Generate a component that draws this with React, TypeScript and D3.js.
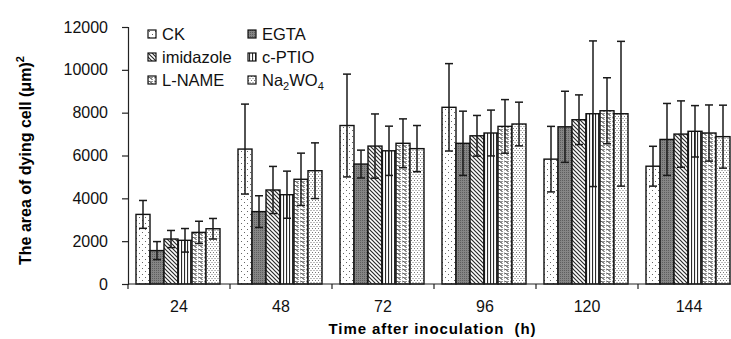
import { useEffect, useRef } from "react";
import * as d3 from "d3";

// time points (h)
const categories = ["24", "48", "72", "96", "120", "144"];
const seriesNames = ["CK", "EGTA", "imidazole", "c-PTIO", "L-NAME", "Na2WO4"];

// mean area of dying cell (μm²)
const ckValues = [3250, 6300, 7400, 8250, 5830, 5500];
const egtaValues = [1560, 3380, 5600, 6570, 7340, 6750];
const imidazoleValues = [2100, 4390, 6440, 6920, 7670, 7000];
const cptioValues = [2040, 4170, 6220, 7050, 7950, 7130];
const lnameValues = [2410, 4890, 6570, 7360, 8090, 7050];
const na2wo4Values = [2580, 5290, 6320, 7470, 7950, 6880];

// error bars (±)
const ckErrors = [650, 2100, 2400, 2040, 1530, 930];
const egtaErrors = [420, 740, 650, 1500, 1660, 1680];
const imidazoleErrors = [400, 1100, 1500, 950, 1160, 1550];
const cptioErrors = [550, 1100, 1150, 1070, 3400, 1200];
const lnameErrors = [520, 1220, 1140, 1250, 1540, 1310];
const na2wo4Errors = [480, 1300, 1080, 1020, 3380, 1470];

const yTicks = [0, 2000, 4000, 6000, 8000, 10000, 12000];

const FONT = "'Liberation Sans', Arial, sans-serif";

export default function App() {
  const svgRef = useRef<SVGSVGElement>(null);
  const width = 731;
  const height = 339;

  useEffect(() => {
    const svg = d3.select(svgRef.current);
    svg.selectAll("*").remove();

    const values = [ckValues, egtaValues, imidazoleValues, cptioValues, lnameValues, na2wo4Values];
    const errors = [ckErrors, egtaErrors, imidazoleErrors, cptioErrors, lnameErrors, na2wo4Errors];
    const patternIds = ["p-ck", "p-egta", "p-imid", "p-cptio", "p-lname", "p-na"];

    // Patterns
    const defs = svg.append("defs");
    const mk = (id: string, w: number, h: number, bg: string) => {
      const p = defs
        .append("pattern")
        .attr("id", id)
        .attr("patternUnits", "userSpaceOnUse")
        .attr("width", w)
        .attr("height", h);
      p.append("rect").attr("width", w).attr("height", h).attr("fill", bg);
      return p;
    };
    const ck = mk("p-ck", 6, 6, "#fff");
    ck.append("rect").attr("x", 1).attr("y", 1).attr("width", 1).attr("height", 1).attr("fill", "#666");
    ck.append("rect").attr("x", 4).attr("y", 4).attr("width", 1).attr("height", 1).attr("fill", "#666");

    const egta = mk("p-egta", 2, 2, "#858585");
    egta.append("rect").attr("width", 1).attr("height", 1).attr("fill", "#5e5e5e");

    const imid = mk("p-imid", 4, 4, "#fff");
    imid.append("path").attr("d", "M-1,-1 L5,5 M-1,3 L1,5 M3,-1 L5,1").attr("stroke", "#2a2a2a").attr("stroke-width", 1.2);

    const cptio = mk("p-cptio", 3, 3, "#fff");
    cptio.append("rect").attr("x", 1).attr("width", 1.1).attr("height", 3).attr("fill", "#2a2a2a");

    const lname = mk("p-lname", 6, 4, "#fff");
    lname
      .append("path")
      .attr("d", "M0,2.5 L1.5,1 L3,2.5 L4.5,1 M3,2.5 L4.5,4 M0,0.5 L1.5,-1")
      .attr("stroke", "#2a2a2a")
      .attr("fill", "none")
      .attr("stroke-width", 1);

    const na = mk("p-na", 3, 4, "#fff");
    na.append("rect").attr("x", 0).attr("y", 0).attr("width", 1).attr("height", 1).attr("fill", "#777");
    na.append("rect").attr("x", 1.5).attr("y", 2).attr("width", 1).attr("height", 1).attr("fill", "#777");

    // Scales
    const x0 = 128;
    const y0 = 284;
    const xScale = d3.scaleBand<string>().domain(categories).range([x0, x0 + 102 * 6]).padding(0);
    const xInner = d3.scaleBand<string>().domain(seriesNames).range([8, 92]).padding(0);
    const yScale = d3.scaleLinear().domain([0, 12000]).range([y0, 27]);

    // Bars
    const g = svg.append("g");
    seriesNames.forEach((s, si) => {
      categories.forEach((c, ci) => {
        const v = values[si][ci];
        g.append("rect")
          .attr("x", (xScale(c) as number) + (xInner(s) as number))
          .attr("y", yScale(v))
          .attr("width", xInner.bandwidth())
          .attr("height", y0 - yScale(v))
          .attr("fill", `url(#${patternIds[si]})`)
          .attr("stroke", "#111")
          .attr("stroke-width", 1.4);
      });
    });

    // Error bars
    seriesNames.forEach((s, si) => {
      categories.forEach((c, ci) => {
        const v = values[si][ci];
        const e = errors[si][ci];
        const cx = (xScale(c) as number) + (xInner(s) as number) + xInner.bandwidth() / 2;
        const eg = g.append("g").attr("stroke", "#1a1a1a").attr("stroke-width", 1.5);
        eg.append("line").attr("x1", cx).attr("x2", cx).attr("y1", yScale(v + e)).attr("y2", yScale(v - e));
        eg.append("line").attr("x1", cx - 4).attr("x2", cx + 4).attr("y1", yScale(v + e)).attr("y2", yScale(v + e));
        eg.append("line").attr("x1", cx - 4).attr("x2", cx + 4).attr("y1", yScale(v - e)).attr("y2", yScale(v - e));
      });
    });

    // Y axis
    const yAxis = svg
      .append("g")
      .attr("transform", `translate(${x0},0)`)
      .call(d3.axisLeft(yScale).tickValues(yTicks).tickSize(6).tickPadding(14).tickFormat(d3.format("d")));
    yAxis.select(".domain").attr("stroke", "#222").attr("stroke-width", 1.2);
    yAxis.selectAll(".tick line").attr("stroke", "#222").attr("stroke-width", 1.2);
    yAxis.selectAll("text").attr("font-family", FONT).attr("font-size", 16).attr("fill", "#111");

    // X axis (ticks at group boundaries)
    const xAxis = svg.append("g").attr("stroke", "#222").attr("stroke-width", 1.2);
    xAxis.append("line").attr("x1", x0).attr("x2", x0 + 102 * 6).attr("y1", y0).attr("y2", y0);
    categories.forEach((c) => {
      const bx = xScale(c) as number;
      xAxis.append("line").attr("x1", bx).attr("x2", bx).attr("y1", y0).attr("y2", y0 + 5);
    });
    categories.forEach((c) => {
      svg
        .append("text")
        .attr("x", (xScale(c) as number) + xScale.bandwidth() / 2)
        .attr("y", 312)
        .attr("text-anchor", "middle")
        .attr("font-family", FONT)
        .attr("font-size", 16)
        .attr("fill", "#111")
        .text(c);
    });

    // Axis titles
    svg
      .append("text")
      .attr("x", 432)
      .attr("y", 334)
      .attr("text-anchor", "middle")
      .attr("font-family", FONT)
      .attr("font-size", 15)
      .attr("font-weight", "bold")
      .attr("textLength", 207)
      .style("white-space", "pre")
      .attr("fill", "#000")
      .text("Time after inoculation  (h)");

    const yt = svg
      .append("text")
      .attr("transform", "translate(31,265) rotate(-90)")
      .attr("font-family", FONT)
      .attr("font-size", 16)
      .attr("font-weight", "bold")
      .attr("fill", "#000");
    yt.append("tspan").text("The area of dying cell (μm)");
    yt.append("tspan").attr("font-size", 11).attr("dy", -7).text("2");

    // Legend
    const legend = svg.append("g").attr("transform", "translate(148,30)");
    seriesNames.forEach((s, i) => {
      const col = i % 2;
      const row = Math.floor(i / 2);
      const item = legend.append("g").attr("transform", `translate(${col * 100},${row * 23})`);
      item
        .append("rect")
        .attr("width", 8)
        .attr("height", 8)
        .attr("fill", `url(#${patternIds[i]})`)
        .attr("stroke", "#111")
        .attr("stroke-width", 1.2);
      const t = item
        .append("text")
        .attr("x", 14)
        .attr("y", 10)
        .attr("font-family", FONT)
        .attr("font-size", 16.5)
        .attr("fill", "#111");
      if (s === "Na2WO4") {
        t.append("tspan").text("Na");
        t.append("tspan").attr("font-size", 11).attr("dy", 4).text("2");
        t.append("tspan").attr("dy", -4).text("WO");
        t.append("tspan").attr("font-size", 11).attr("dy", 4).text("4");
      } else {
        t.text(s);
      }
    });
  }, []);

  return (
    <svg
      ref={svgRef}
      width={width}
      height={height}
      style={{ position: "absolute", left: 0, top: 0, background: "#fff" }}
    ></svg>
  );
}
